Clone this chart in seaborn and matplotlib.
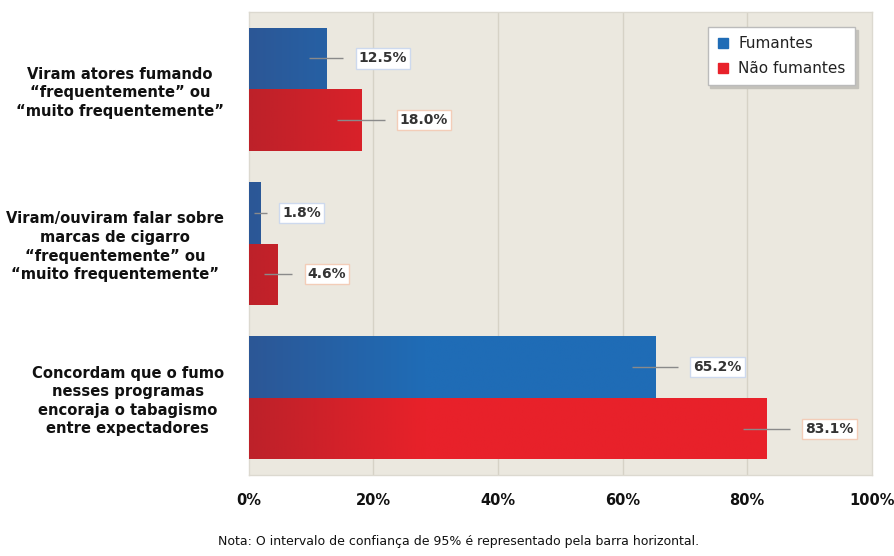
import numpy as np
import pandas as pd
import matplotlib
matplotlib.use("Agg")
import matplotlib.pyplot as plt
from matplotlib.colors import to_rgb
from matplotlib.lines import Line2D
import seaborn as sns

# Survey items (y categories)
categories = [
    "Viram atores fumando\n\u201cfrequentemente\u201d ou\n\u201cmuito frequentemente\u201d",
    "Viram/ouviram falar sobre\nmarcas de cigarro\n\u201cfrequentemente\u201d ou\n\u201cmuito frequentemente\u201d",
    "Concordam que o fumo\nnesses programas\nencoraja o tabagismo\nentre expectadores",
]
groups = ["Fumantes", "Não fumantes"]

# Percentages and 95% confidence intervals
fumantes = [12.5, 1.8, 65.2]
fumantes_lo = [9.7, 0.9, 61.5]
fumantes_hi = [15.2, 2.9, 68.9]
nao_fumantes = [18.0, 4.6, 83.1]
nao_fumantes_lo = [14.2, 2.5, 79.4]
nao_fumantes_hi = [21.8, 7.0, 86.9]

x_ticks = [0, 20, 40, 60, 80, 100]
x_ticklabels = ["0%", "20%", "40%", "60%", "80%", "100%"]
note = "Nota: O intervalo de confiança de 95% é representado pela barra horizontal."

colors = {"Fumantes": "#1f6cb6", "Não fumantes": "#e8212a"}
dark = {"Fumantes": "#2c5796", "Não fumantes": "#bd2129"}
label_edge = {"Fumantes": "#cdd9ee", "Não fumantes": "#f3cdb8"}

df = pd.DataFrame({
    "categoria": categories * 2,
    "grupo": [groups[0]] * 3 + [groups[1]] * 3,
    "valor": fumantes + nao_fumantes,
    "lo": fumantes_lo + nao_fumantes_lo,
    "hi": fumantes_hi + nao_fumantes_hi,
})

sns.set_style("white")
plt.rcParams["font.family"] = ["DejaVu Sans"]

fig = plt.figure(figsize=(8.95, 5.56), dpi=100)
ax = fig.add_axes([0.278, 0.146, 0.696, 0.832])
ax.set_facecolor("#ebe8df")

sns.barplot(data=df, y="categoria", x="valor", hue="grupo", order=categories,
            hue_order=groups, palette=colors, orient="h", width=0.8,
            errorbar=None, legend=False, ax=ax, zorder=3, linewidth=0)

ax.set_xlim(0, 100)
ax.set_xticks(x_ticks)
ax.set_xticklabels(x_ticklabels, fontsize=10.5, fontweight="bold", color="#111111")
ax.tick_params(axis="x", length=0, pad=13)
ax.tick_params(axis="y", length=0, pad=18)
for lab in ax.get_yticklabels():
    lab.set_multialignment("center")
    lab.set_linespacing(1.3)
    lab.set_fontweight("bold")
    lab.set_fontsize(10.6)
    lab.set_color("#111111")
ax.set_xlabel("")
ax.set_ylabel("")
for x in x_ticks[1:-1]:
    ax.axvline(x, color="#d6d2c6", lw=1.0, zorder=1)
for s in ax.spines.values():
    s.set_color("#dcd9d0")
    s.set_linewidth(1.0)

# Horizontal colour gradient inside each bar (darker on the left)
ylim = ax.get_ylim()
patches = [p for p in ax.patches if p.get_width() > 0]
n = len(categories)
for gi, g in enumerate(groups):
    base = np.array(to_rgb(colors[g]))
    dk = np.array(to_rgb(dark[g]))
    sub = df[df["grupo"] == g].reset_index(drop=True)
    for i in range(n):
        p = patches[gi * n + i]
        w = p.get_width()
        xs = np.linspace(0, w, 200)
        t = np.clip(xs / 28.0, 0, 1)[:, None]
        grad = (dk * (1 - t) + base * t)[None, :, :]
        y0, h = p.get_y(), p.get_height()
        im = ax.imshow(grad, extent=[0, w, y0 + h, y0], aspect="auto",
                       interpolation="bilinear", zorder=3.5)
        im.set_clip_path(p)
        yc = y0 + h / 2
        ax.hlines(yc, sub.loc[i, "lo"], sub.loc[i, "hi"], color="#8a8a8a",
                  lw=1.0, zorder=5)
        ax.annotate(f"{sub.loc[i, 'valor']:.1f}%", xy=(sub.loc[i, "hi"], yc),
                    xytext=(11, 0), textcoords="offset points", ha="left",
                    va="center", fontsize=10, fontweight="bold", color="#333333",
                    zorder=6,
                    bbox=dict(boxstyle="square,pad=0.22", fc="white",
                              ec=label_edge[g], lw=1.0))
ax.set_ylim(ylim)

handles = [Line2D([0], [0], marker="s", color="none", markerfacecolor=colors[g],
                  markeredgecolor=colors[g], markersize=7, label=g) for g in groups]
leg = ax.legend(handles=handles, loc="upper right", bbox_to_anchor=(0.985, 0.985),
                frameon=True, fancybox=False,
                shadow={"color": "#c4c2bb", "alpha": 1.0},
                fontsize=11, handlelength=0.8, handletextpad=0.6, borderpad=0.6,
                labelspacing=0.65)
leg.get_frame().set_edgecolor("#bbbbbb")
leg.get_frame().set_facecolor("white")
leg.get_frame().set_alpha(1)
leg.set_zorder(10)
for t in leg.get_texts():
    t.set_color("#222222")

fig.text(0.512, 0.015, note, ha="center", va="bottom", fontsize=9,
         color="#111111")

fig.savefig("out.png", dpi=100, facecolor="white")
